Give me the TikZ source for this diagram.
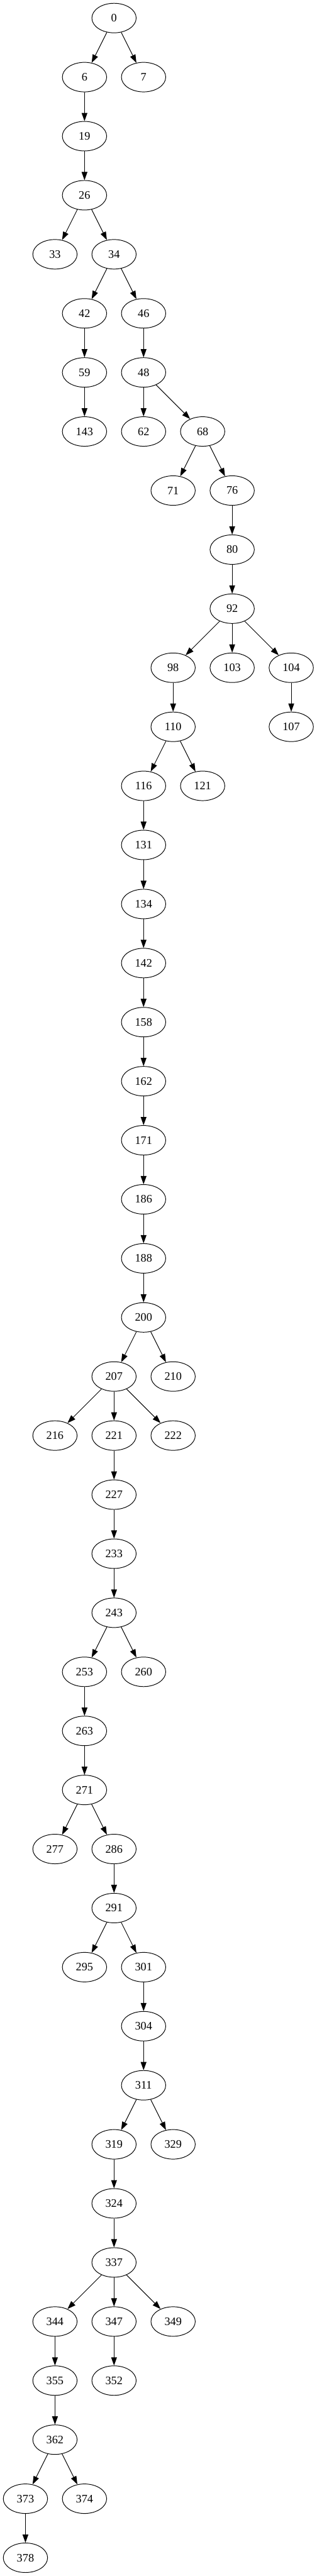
\documentclass[tikz,border=0pt]{standalone}
\usepackage{fontspec}
\setmainfont{Liberation Serif}
\usetikzlibrary{shapes.geometric,arrows.meta}
\tikzset{
  nd/.style={draw, ellipse, line width=0.75pt, minimum width=54pt, minimum height=36pt, inner sep=0pt, font=\fontsize{14}{16}\selectfont},
  edg/.style={line width=0.75pt, -{Triangle[length=10pt,width=7pt]}}
}
\begin{document}
\begin{tikzpicture}
\useasboundingbox (0,0) rectangle (386.25pt,-3140.25pt);
\begin{scope}[shift={(31pt,-22pt)}, x=36pt, y=-72pt]
\node[nd] (n0) at (3,0) {0};
\node[nd] (n6) at (2,1) {6};
\node[nd] (n7) at (4,1) {7};
\node[nd] (n19) at (2,2) {19};
\node[nd] (n26) at (2,3) {26};
\node[nd] (n33) at (1,4) {33};
\node[nd] (n34) at (3,4) {34};
\node[nd] (n42) at (2,5) {42};
\node[nd] (n46) at (4,5) {46};
\node[nd] (n59) at (2,6) {59};
\node[nd] (n48) at (4,6) {48};
\node[nd] (n143) at (2,7) {143};
\node[nd] (n62) at (4,7) {62};
\node[nd] (n68) at (6,7) {68};
\node[nd] (n71) at (5,8) {71};
\node[nd] (n76) at (7,8) {76};
\node[nd] (n80) at (7,9) {80};
\node[nd] (n92) at (7,10) {92};
\node[nd] (n98) at (5,11) {98};
\node[nd] (n103) at (7,11) {103};
\node[nd] (n104) at (9,11) {104};
\node[nd] (n110) at (5,12) {110};
\node[nd] (n107) at (9,12) {107};
\node[nd] (n116) at (4,13) {116};
\node[nd] (n121) at (6,13) {121};
\node[nd] (n131) at (4,14) {131};
\node[nd] (n134) at (4,15) {134};
\node[nd] (n142) at (4,16) {142};
\node[nd] (n158) at (4,17) {158};
\node[nd] (n162) at (4,18) {162};
\node[nd] (n171) at (4,19) {171};
\node[nd] (n186) at (4,20) {186};
\node[nd] (n188) at (4,21) {188};
\node[nd] (n200) at (4,22) {200};
\node[nd] (n207) at (3,23) {207};
\node[nd] (n210) at (5,23) {210};
\node[nd] (n216) at (1,24) {216};
\node[nd] (n221) at (3,24) {221};
\node[nd] (n222) at (5,24) {222};
\node[nd] (n227) at (3,25) {227};
\node[nd] (n233) at (3,26) {233};
\node[nd] (n243) at (3,27) {243};
\node[nd] (n253) at (2,28) {253};
\node[nd] (n260) at (4,28) {260};
\node[nd] (n263) at (2,29) {263};
\node[nd] (n271) at (2,30) {271};
\node[nd] (n277) at (1,31) {277};
\node[nd] (n286) at (3,31) {286};
\node[nd] (n291) at (3,32) {291};
\node[nd] (n295) at (2,33) {295};
\node[nd] (n301) at (4,33) {301};
\node[nd] (n304) at (4,34) {304};
\node[nd] (n311) at (4,35) {311};
\node[nd] (n319) at (3,36) {319};
\node[nd] (n329) at (5,36) {329};
\node[nd] (n324) at (3,37) {324};
\node[nd] (n337) at (3,38) {337};
\node[nd] (n344) at (1,39) {344};
\node[nd] (n347) at (3,39) {347};
\node[nd] (n349) at (5,39) {349};
\node[nd] (n355) at (1,40) {355};
\node[nd] (n352) at (3,40) {352};
\node[nd] (n362) at (1,41) {362};
\node[nd] (n373) at (0,42) {373};
\node[nd] (n374) at (2,42) {374};
\node[nd] (n378) at (0,43) {378};
\foreach \a/\b in {0/6,0/7,6/19,19/26,26/33,26/34,34/42,34/46,42/59,46/48,59/143,48/62,48/68,68/71,68/76,76/80,80/92,92/98,92/103,92/104,98/110,104/107,110/116,110/121,116/131,131/134,134/142,142/158,158/162,162/171,171/186,186/188,188/200,200/207,200/210,207/216,207/221,207/222,221/227,227/233,233/243,243/253,243/260,253/263,263/271,271/277,271/286,286/291,291/295,291/301,301/304,304/311,311/319,311/329,319/324,324/337,337/344,337/347,337/349,344/355,347/352,355/362,362/373,362/374,373/378}
  \draw[edg] (n\a) -- (n\b);
\end{scope}
\end{tikzpicture}
\end{document}
